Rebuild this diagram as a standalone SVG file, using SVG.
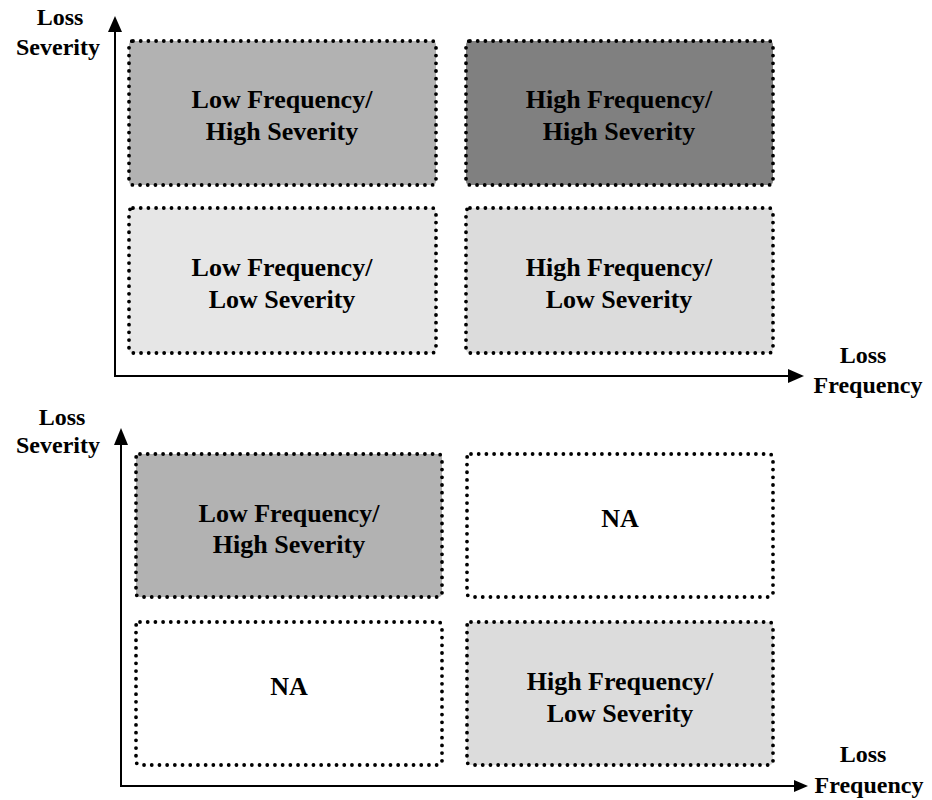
<svg xmlns="http://www.w3.org/2000/svg" width="932" height="800" viewBox="0 0 932 800">
  <style>
    .cell { stroke: #000; stroke-width: 3.8; stroke-dasharray: 0 7.7; stroke-linecap: round; }
    .t { font-family: "Liberation Serif", "Times New Roman", serif; font-weight: bold; font-size: 26px; fill: #000; text-anchor: middle; }
    .ax { font-family: "Liberation Serif", "Times New Roman", serif; font-weight: bold; font-size: 24px; fill: #000; text-anchor: middle; }
    .axis { stroke: #000; stroke-width: 2; fill: none; }
  </style>

  <!-- Top matrix -->
  <g id="top-low-freq-high-sev">
    <rect class="cell" x="129" y="41" width="307" height="144" rx="4" fill="#b2b2b2"/>
    <text class="t" x="282" y="108">Low Frequency/</text>
    <text class="t" x="282" y="140">High Severity</text>
  </g>
  <g id="top-high-freq-high-sev">
    <rect class="cell" x="466" y="41" width="307" height="144" rx="4" fill="#808080"/>
    <text class="t" x="619" y="108">High Frequency/</text>
    <text class="t" x="619" y="140">High Severity</text>
  </g>
  <g id="top-low-freq-low-sev">
    <rect class="cell" x="129" y="208" width="307" height="145" rx="4" fill="#e6e6e6"/>
    <text class="t" x="282" y="276">Low Frequency/</text>
    <text class="t" x="282" y="308">Low Severity</text>
  </g>
  <g id="top-high-freq-low-sev">
    <rect class="cell" x="466" y="208" width="307" height="145" rx="4" fill="#dcdcdc"/>
    <text class="t" x="619" y="276">High Frequency/</text>
    <text class="t" x="619" y="308">Low Severity</text>
  </g>
  <g id="top-axis-labels">
    <text class="ax" x="60" y="25">Loss</text>
    <text class="ax" x="58" y="55">Severity</text>
    <text class="ax" x="863" y="363">Loss</text>
    <text class="ax" x="868" y="393">Frequency</text>
  </g>

  <!-- Bottom matrix -->
  <g id="bottom-low-freq-high-sev">
    <rect class="cell" x="136" y="454" width="306" height="143" rx="4" fill="#b2b2b2"/>
    <text class="t" x="289" y="522">Low Frequency/</text>
    <text class="t" x="289" y="553">High Severity</text>
  </g>
  <g id="bottom-na-upper">
    <rect class="cell" x="467" y="454" width="306" height="143" rx="4" fill="#fff"/>
    <text class="t" x="620" y="527">NA</text>
  </g>
  <g id="bottom-na-lower">
    <rect class="cell" x="136" y="622" width="306" height="143" rx="4" fill="#fff"/>
    <text class="t" x="289" y="695">NA</text>
  </g>
  <g id="bottom-high-freq-low-sev">
    <rect class="cell" x="467" y="622" width="306" height="143" rx="4" fill="#dcdcdc"/>
    <text class="t" x="620" y="690">High Frequency/</text>
    <text class="t" x="620" y="722">Low Severity</text>
  </g>
  <g id="bottom-axis-labels">
    <text class="ax" x="62" y="425">Loss</text>
    <text class="ax" x="58" y="453">Severity</text>
    <text class="ax" x="863" y="762">Loss</text>
    <text class="ax" x="869" y="793">Frequency</text>
  </g>

  <!-- Axes -->
  <g id="connectors">
    <polyline class="axis" points="115,30 115,376 788,376"/>
    <polygon points="115,16 108,32 122,32" fill="#000"/>
    <polygon points="804,376 788,369 788,383" fill="#000"/>

    <polyline class="axis" points="121,443 121,786 794,786"/>
    <polygon points="121,428 114,445 128,445" fill="#000"/>
    <polygon points="808,786 794,780 794,792" fill="#000"/>
  </g>
</svg>
